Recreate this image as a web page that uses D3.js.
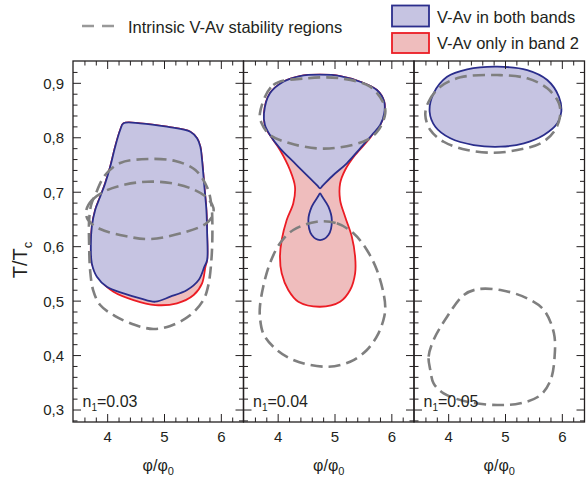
<!DOCTYPE html>
<html><head><meta charset="utf-8">
<script src="https://cdn.jsdelivr.net/npm/d3@7"></script>
<style>
body{margin:0;background:#fff}
svg{display:block}
text{font-family:"Liberation Sans",Arial,Helvetica,sans-serif;fill:#231f20}
</style>
</head><body>
<svg id="c" width="588" height="478"></svg>
<script>
// ---------- data ----------
const panelN = ["0.03", "0.04", "0.05"];
const xTickValues = [4, 5, 6];
const xTickLabels = ["4", "5", "6"];
const yTickValues = [0.3, 0.4, 0.5, 0.6, 0.7, 0.8, 0.9];
const yTickLabels = ["0,3", "0,4", "0,5", "0,6", "0,7", "0,8", "0,9"];
const legendLabels = ["Intrinsic V-Av stability regions", "V-Av in both bands", "V-Av only in band 2"];

// panel 1 (n1 = 0.03)
const p1Red = [[4.279,0.8265],[4.573,0.8265],[5.044,0.8203],[5.455,0.8111],[5.573,0.799],[5.631,0.7836],[5.661,0.7591],[5.702,0.7101],[5.737,0.6673],[5.75,0.6251],[5.75,0.5755],[5.72,0.5632],[5.661,0.5327],[5.513,0.5112],[5.22,0.496],[4.838,0.4928],[4.455,0.502],[4.102,0.5173],[3.868,0.5388],[3.721,0.5694],[3.704,0.6],[3.721,0.6366],[3.78,0.6673],[3.868,0.6917],[3.956,0.7163],[4.044,0.7468],[4.132,0.7836],[4.22,0.8142]];
const p1Blue = [[4.279,0.8265],[4.573,0.8265],[5.044,0.8203],[5.455,0.8111],[5.573,0.799],[5.631,0.7836],[5.661,0.7591],[5.702,0.7101],[5.737,0.6673],[5.75,0.6251],[5.75,0.5755],[5.702,0.5632],[5.601,0.5388],[5.397,0.5204],[5.102,0.5081],[4.838,0.4989],[4.573,0.5051],[4.279,0.5143],[3.986,0.5264],[3.81,0.5448],[3.721,0.5694],[3.704,0.6],[3.721,0.6366],[3.78,0.6673],[3.868,0.6917],[3.956,0.7163],[4.044,0.7468],[4.132,0.7836],[4.22,0.8142]];
const p1GrayA = [[3.78,0.6949],[3.956,0.7316],[4.22,0.7536],[4.714,0.761],[5.19,0.7573],[5.543,0.7408],[5.755,0.7077],[5.825,0.6765],[5.843,0.6306],[5.825,0.5755],[5.772,0.5296],[5.684,0.502],[5.455,0.4745],[5.102,0.4543],[4.802,0.4488],[4.485,0.4561],[4.132,0.4726],[3.868,0.4928],[3.744,0.5204],[3.691,0.5571],[3.674,0.603],[3.674,0.6489],[3.709,0.6765]];
const p1GrayB = [[3.621,0.6655],[3.727,0.6858],[3.956,0.7022],[4.309,0.7141],[4.697,0.7193],[5.102,0.7169],[5.49,0.7059],[5.755,0.6893],[5.861,0.671],[5.843,0.6563],[5.72,0.6416],[5.367,0.6269],[4.75,0.614],[4.309,0.6195],[3.868,0.6324],[3.656,0.6489]];

// panel 2 (n1 = 0.04)
const p2Red = [[3.75,0.8449],[3.855,0.8816],[4.09,0.9029],[4.384,0.9134],[4.737,0.9158],[5.09,0.9134],[5.443,0.9029],[5.737,0.8877],[5.866,0.8662],[5.866,0.8449],[5.795,0.8234],[5.677,0.8082],[5.561,0.7927],[5.354,0.7683],[5.178,0.7408],[5.09,0.7163],[5.09,0.6857],[5.178,0.655],[5.296,0.6183],[5.354,0.5815],[5.354,0.5511],[5.266,0.5204],[5.09,0.4989],[4.737,0.4897],[4.355,0.4989],[4.178,0.5204],[4.062,0.5511],[4.032,0.5815],[4.062,0.6122],[4.15,0.6489],[4.266,0.6796],[4.296,0.7101],[4.208,0.7408],[4.032,0.7775],[3.891,0.7995],[3.785,0.8174]];
const p2Blue = [[3.75,0.8449],[3.855,0.8816],[4.09,0.9029],[4.384,0.9134],[4.737,0.9158],[5.09,0.9134],[5.443,0.9029],[5.737,0.8877],[5.866,0.8662],[5.866,0.8449],[5.795,0.8234],[5.649,0.8051],[5.443,0.7806],[5.208,0.7531],[4.972,0.7316],[4.784,0.7121],[4.737,0.7072],[4.69,0.7121],[4.503,0.7316],[4.266,0.756],[4.032,0.7806],[3.855,0.805],[3.767,0.8234]];
const p2Loop = [[4.737,0.698],[4.774,0.692],[4.884,0.6734],[4.944,0.6489],[4.884,0.6214],[4.737,0.6122],[4.591,0.6214],[4.531,0.6489],[4.591,0.6734],[4.70,0.692]];
const p2GrayTop = [[3.679,0.8449],[3.914,0.8969],[4.503,0.9092],[5.09,0.9092],[5.619,0.8938],[5.854,0.8633],[5.884,0.8449],[5.765,0.8142],[5.561,0.7959],[5.09,0.7825],[4.679,0.7806],[4.208,0.7898],[3.855,0.805],[3.709,0.8265]];
const p2GrayBottom = [[4.679,0.6458],[5.032,0.6429],[5.325,0.6245],[5.561,0.5939],[5.737,0.5571],[5.854,0.5143],[5.884,0.4897],[5.866,0.4713],[5.765,0.4409],[5.561,0.4102],[5.266,0.3887],[4.855,0.3795],[4.266,0.3918],[3.914,0.4163],[3.737,0.4409],[3.679,0.4713],[3.679,0.4897],[3.737,0.5264],[3.855,0.5694],[4.032,0.6062],[4.266,0.6306]];

// panel 3 (n1 = 0.05)
const p3Blue = [[3.665,0.8478],[3.735,0.8816],[3.972,0.9121],[4.325,0.9257],[4.854,0.9305],[5.383,0.9244],[5.735,0.9061],[5.94,0.8754],[5.982,0.8478],[5.912,0.8265],[5.675,0.8051],[5.323,0.7898],[4.912,0.7836],[4.441,0.7867],[4.03,0.799],[3.765,0.8203]];
const p3GrayTop = [[3.589,0.8418],[3.647,0.8662],[3.854,0.8938],[4.206,0.911],[4.854,0.9152],[5.383,0.9092],[5.735,0.8908],[5.94,0.8633],[5.958,0.8387],[5.852,0.8111],[5.617,0.7898],[5.206,0.7775],[4.794,0.7725],[4.325,0.7775],[3.912,0.7927],[3.677,0.8142]];
const p3GrayBottom = [[3.677,0.3735],[3.647,0.3979],[3.735,0.4286],[3.972,0.4713],[4.265,0.5112],[4.501,0.5217],[4.912,0.5204],[5.383,0.5051],[5.675,0.4837],[5.852,0.4409],[5.864,0.3979],[5.794,0.3551],[5.617,0.3275],[5.263,0.3123],[4.854,0.3092],[4.325,0.3152],[3.912,0.3307],[3.735,0.349]];

const panelShapes = [
  {red: [p1Red], blue: [p1Blue], gray: [p1GrayA, p1GrayB]},
  {red: [p2Red], blue: [p2Blue, p2Loop], gray: [p2GrayTop, p2GrayBottom]},
  {red: [], blue: [p3Blue], gray: [p3GrayTop, p3GrayBottom]}
];

// ---------- style ----------
const BLUE_FILL = "#c6c4e2", BLUE_LINE = "#2b2e8c";
const RED_FILL = "#efbdbd", RED_LINE = "#ec1c24";
const GRAY = "#7f7f7f", INK = "#231f20";

const svg = d3.select("#c");
const plotTop = 61, plotBottom = 422, pw = 170.5;
const lefts = [73, 243.5, 414];
const y = d3.scaleLinear().domain([0.278, 0.941]).range([plotBottom, plotTop]);
const xMinor = d3.range(34, 65, 2).map(v => v / 10);
const yMinor = d3.range(28, 95, 2).map(v => v / 100);

lefts.forEach((L, i) => {
  const x = d3.scaleLinear().domain([3.39, 6.39]).range([L, L + pw]);
  const g = svg.append("g");
  const cid = "clip" + i;
  svg.append("clipPath").attr("id", cid).append("rect")
    .attr("x", L).attr("y", plotTop).attr("width", pw).attr("height", plotBottom - plotTop);
  const gc = g.append("g").attr("clip-path", `url(#${cid})`);
  const line = d3.line().x(d => x(d[0])).y(d => y(d[1])).curve(d3.curveCatmullRomClosed.alpha(0.5));
  const s = panelShapes[i];
  s.red.forEach(pts => gc.append("path").attr("d", line(pts))
    .attr("fill", RED_FILL).attr("stroke", RED_LINE).attr("stroke-width", 1.8));
  s.blue.forEach(pts => gc.append("path").attr("d", line(pts))
    .attr("fill", BLUE_FILL).attr("stroke", BLUE_LINE).attr("stroke-width", 1.8));
  s.gray.forEach(pts => gc.append("path").attr("d", line(pts))
    .attr("fill", "none").attr("stroke", GRAY).attr("stroke-width", 2.6)
    .attr("stroke-dasharray", "12,6"));

  // ticks
  const tk = g.append("g").attr("stroke", INK).attr("stroke-width", 1);
  xMinor.forEach(v => {
    const px = x(v);
    if (px < L + 1 || px > L + pw - 1) return;
    const major = Math.abs(v - Math.round(v)) < 1e-6;
    const len = major ? 8 : 4.5;
    tk.append("line").attr("x1", px).attr("x2", px).attr("y1", plotBottom).attr("y2", plotBottom - len);
    tk.append("line").attr("x1", px).attr("x2", px).attr("y1", plotTop).attr("y2", plotTop + len);
  });
  yMinor.forEach(v => {
    const py = y(v);
    if (py < plotTop + 1 || py > plotBottom - 1) return;
    const major = Math.abs(v * 10 - Math.round(v * 10)) < 1e-6;
    const len = major ? 8 : 4.5;
    tk.append("line").attr("x1", L).attr("x2", L + len).attr("y1", py).attr("y2", py);
    tk.append("line").attr("x1", L + pw).attr("x2", L + pw - len).attr("y1", py).attr("y2", py);
  });

  // frame
  g.append("rect").attr("x", L).attr("y", plotTop).attr("width", pw).attr("height", plotBottom - plotTop)
    .attr("fill", "none").attr("stroke", INK).attr("stroke-width", 1.3);

  // x tick labels
  xTickValues.forEach((v, k) => {
    g.append("text").attr("x", x(v)).attr("y", 442).attr("text-anchor", "middle")
      .attr("font-size", "15px").text(xTickLabels[k]);
  });
  // x axis title
  const xt = g.append("text").attr("x", L + pw / 2).attr("y", 471).attr("text-anchor", "middle")
    .attr("font-size", "16px");
  xt.append("tspan").text("φ/φ");
  xt.append("tspan").attr("font-size", "11px").attr("dy", 4).text("0");

  // panel label
  const nl = g.append("text").attr("x", L + 9.5).attr("y", 406.5).attr("font-size", "16px");
  nl.append("tspan").text("n");
  nl.append("tspan").attr("font-size", "10px").attr("dy", 4).text("1");
  nl.append("tspan").attr("dy", -4).text("=" + panelN[i]);
});

// y tick labels
yTickValues.forEach((v, k) => {
  svg.append("text").attr("x", 64).attr("y", y(v)).attr("dy", "0.36em")
    .attr("text-anchor", "end").attr("font-size", "15px").text(yTickLabels[k]);
});
// y axis title
const yt = svg.append("text").attr("transform", "translate(27,260) rotate(-90)")
  .attr("text-anchor", "middle").attr("font-size", "20px");
yt.append("tspan").text("T/T");
yt.append("tspan").attr("font-size", "13px").attr("dy", 5).text("c");

// legend
const lg = svg.append("g");
lg.append("line").attr("x1", 82).attr("x2", 114).attr("y1", 26).attr("y2", 26)
  .attr("stroke", "#999").attr("stroke-width", 2.6).attr("stroke-dasharray", "12,8");
lg.append("text").attr("x", 128).attr("y", 33).attr("font-size", "16.5px").text(legendLabels[0]);
lg.append("rect").attr("x", 392).attr("y", 5.5).attr("width", 37).attr("height", 21)
  .attr("fill", BLUE_FILL).attr("stroke", BLUE_LINE).attr("stroke-width", 1.8);
lg.append("text").attr("x", 437).attr("y", 22.5).attr("font-size", "16.5px").text(legendLabels[1]);
lg.append("rect").attr("x", 392).attr("y", 33).attr("width", 37).attr("height", 20)
  .attr("fill", RED_FILL).attr("stroke", RED_LINE).attr("stroke-width", 1.8);
lg.append("text").attr("x", 437).attr("y", 49.3).attr("font-size", "16.5px").text(legendLabels[2]);
</script>
</body></html>
